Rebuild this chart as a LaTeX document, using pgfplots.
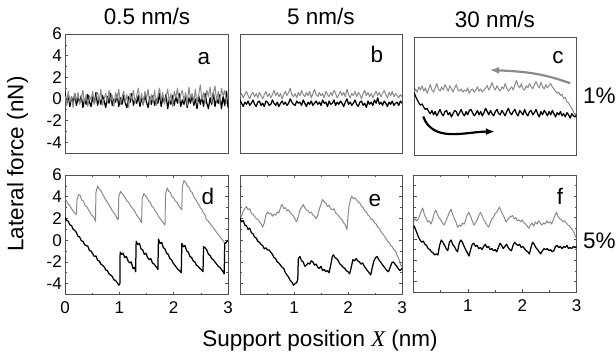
\documentclass[border=0pt]{standalone}
\usepackage{fontspec}
\setmainfont{Liberation Sans}
\newfontfamily\timesfont{Liberation Serif}
\usepackage{pgfplots}
\pgfplotsset{compat=1.18}
\usetikzlibrary{arrows.meta}
\definecolor{tgray}{HTML}{8A8A8A}
\definecolor{fgray}{HTML}{505050}
\newcommand\bigtxt{\fontsize{22.5bp}{26bp}\selectfont}
\pgfplotsset{
  panel/.style={
    scale only axis, xmin=0, xmax=3, ymin=-5, ymax=6,
    axis line style={fgray, line width=0.8bp},
    tick style={fgray, line width=0.6bp},
    major tick length=3bp, minor tick length=2bp,
    tick align=inside,
    tick label style={font=\fontsize{17bp}{17bp}\selectfont},
    yticklabel style={inner sep=0pt, xshift=-3bp},
    xticklabel style={inner sep=0pt, yshift=-7bp},
  },
  botrow/.style={panel, xtick={0,1,2,3}, minor xtick={0.5,1.5,2.5},
    ytick={-4,-2,0,2,4,6}, minor ytick={-5,-3,-1,1,3,5}, tick pos=both},
  blk/.style={black, line width=1.25bp, line join=round},
  gry/.style={tgray, line width=1.0bp, line join=round},
}
\begin{document}
\begin{tikzpicture}
\path[use as bounding box] (0,0) rectangle (616bp,358bp);

% ---------- panel a ----------
\begin{axis}[panel, at={(65bp,205bp)}, anchor=south west, width=163bp, height=119bp,
  xtick=\empty, ytick={-4,-2,0,2,4,6}, yticklabels={-4,-2,0,2,4,6},
  minor ytick={-5,-3,-1,1,3,5}, ytick pos=left]
\addplot[blk] coordinates {(0,0.6)(0.03,-0.5)(0.06,0.4)(0.09,-0.7)(0.12,0.2)(0.15,-0.4)(0.18,0.5)(0.21,-0.6)(0.24,0.1)(0.27,-0.3)
(0.30,0.3)(0.33,-0.8)(0.36,0.0)(0.39,-0.5)(0.42,0.4)(0.45,-0.3)(0.48,-0.7)(0.51,0.2)(0.54,-0.4)(0.57,0.6)
(0.60,-0.6)(0.63,0.1)(0.66,-0.5)(0.69,0.3)(0.72,-0.2)(0.75,-0.8)(0.78,0.2)(0.81,-0.4)(0.84,0.5)(0.87,-0.6)
(0.90,0.0)(0.93,-0.3)(0.96,0.4)(0.99,-0.7)(1.02,0.1)(1.05,-0.5)(1.08,0.3)(1.11,-0.4)(1.14,-0.8)(1.17,0.2)
(1.20,-0.3)(1.23,0.5)(1.26,-0.6)(1.29,0.0)(1.32,-0.4)(1.35,0.3)(1.38,-0.7)(1.41,0.1)(1.44,-0.5)(1.47,0.4)
(1.50,-0.3)(1.53,-0.8)(1.56,0.2)(1.59,-0.5)(1.62,0.3)(1.65,-0.6)(1.68,0.0)(1.71,-0.4)(1.74,0.5)(1.77,-0.7)
(1.80,0.1)(1.83,-0.3)(1.86,0.4)(1.89,-0.9)(1.92,0.0)(1.95,-0.5)(1.98,0.3)(2.01,-0.6)(2.04,0.2)(2.07,-0.4)
(2.10,0.5)(2.13,-0.7)(2.16,-0.1)(2.19,-0.5)(2.22,0.3)(2.25,-0.8)(2.28,0.1)(2.31,-0.4)(2.34,0.4)(2.37,-0.6)
(2.40,0.0)(2.43,-0.9)(2.46,0.3)(2.49,-0.5)(2.52,0.2)(2.55,-0.7)(2.58,0.5)(2.61,-0.4)(2.64,-0.9)(2.67,0.1)
(2.70,-0.5)(2.73,0.6)(2.76,-0.7)(2.79,0.0)(2.82,-0.4)(2.85,0.4)(2.88,-0.9)(2.91,0.2)(2.94,-0.6)(2.97,0.7)(3.00,-0.8)};
\addplot[gry] coordinates {(0,0.3)(0.03,-0.6)(0.06,0.7)(0.09,-0.3)(0.12,0.2)(0.15,-0.8)(0.18,0.5)(0.21,-0.2)(0.24,0.6)(0.27,-0.5)
(0.30,0.1)(0.33,0.8)(0.36,-0.4)(0.39,0.4)(0.42,-0.7)(0.45,0.3)(0.48,-0.1)(0.51,0.7)(0.54,-0.5)(0.57,0.2)
(0.60,0.6)(0.63,-0.3)(0.66,0.9)(0.69,-0.6)(0.72,0.0)(0.75,0.5)(0.78,-0.4)(0.81,0.8)(0.84,-0.2)(0.87,0.3)
(0.90,-0.7)(0.93,0.6)(0.96,0.0)(0.99,0.9)(1.02,-0.5)(1.05,0.2)(1.08,0.7)(1.11,-0.3)(1.14,0.4)(1.17,-0.8)
(1.20,0.5)(1.23,-0.1)(1.26,0.8)(1.29,-0.4)(1.32,0.3)(1.35,1.0)(1.38,-0.3)(1.41,0.5)(1.44,-0.6)(1.47,0.7)
(1.50,0.0)(1.53,0.9)(1.56,-0.5)(1.59,0.4)(1.62,-0.2)(1.65,0.8)(1.68,-0.6)(1.71,0.3)(1.74,1.0)(1.77,-0.2)
(1.80,0.6)(1.83,-0.5)(1.86,0.2)(1.89,0.9)(1.92,-0.3)(1.95,0.5)(1.98,-0.7)(2.01,0.7)(2.04,0.1)(2.07,1.0)
(2.10,-0.4)(2.13,0.4)(2.16,0.8)(2.19,-0.2)(2.22,0.6)(2.25,-0.6)(2.28,1.1)(2.31,0.0)(2.34,0.5)(2.37,-0.3)
(2.40,0.9)(2.43,-0.5)(2.46,0.4)(2.49,1.3)(2.52,-0.1)(2.55,0.6)(2.58,-0.4)(2.61,0.8)(2.64,0.2)(2.67,1.1)
(2.70,-0.3)(2.73,0.5)(2.76,1.2)(2.79,-0.2)(2.82,0.7)(2.85,-0.5)(2.88,1.0)(2.91,0.3)(2.94,0.8)(2.97,-0.4)(3.00,0.6)};
\end{axis}

% ---------- panel b ----------
\begin{axis}[panel, at={(240bp,205bp)}, anchor=south west, width=162bp, height=119bp,
  xtick=\empty, ytick=\empty]
\addplot[gry] coordinates {(0,0.2)(0.03,0.5)(0.06,0.1)(0.09,0.4)(0.12,0.7)(0.15,0.3)(0.18,0.0)(0.21,0.4)(0.24,0.6)(0.27,0.2)
(0.30,0.5)(0.33,0.1)(0.36,0.6)(0.39,0.3)(0.42,0.0)(0.45,0.4)(0.48,0.7)(0.51,0.2)(0.54,0.5)(0.57,0.1)
(0.60,0.4)(0.63,0.8)(0.66,0.3)(0.69,0.6)(0.72,0.2)(0.75,0.5)(0.78,0.0)(0.81,0.4)(0.84,0.7)(0.87,0.3)
(0.90,0.6)(0.93,1.0)(0.96,0.4)(0.99,0.2)(1.02,0.5)(1.05,0.1)(1.08,0.6)(1.11,0.3)(1.14,0.8)(1.17,0.4)
(1.20,0.2)(1.23,0.6)(1.26,0.3)(1.29,0.7)(1.32,0.1)(1.35,0.5)(1.38,0.9)(1.41,0.4)(1.44,0.2)(1.47,0.6)
(1.50,0.3)(1.53,0.5)(1.56,0.1)(1.59,0.7)(1.62,0.4)(1.65,0.2)(1.68,0.6)(1.71,0.3)(1.74,0.8)(1.77,0.5)
(1.80,0.1)(1.83,0.4)(1.86,0.7)(1.89,0.3)(1.92,0.6)(1.95,0.2)(1.98,0.9)(2.01,0.4)(2.04,0.1)(2.07,0.5)
(2.10,0.3)(2.13,0.7)(2.16,0.2)(2.19,0.6)(2.22,0.4)(2.25,0.0)(2.28,0.5)(2.31,0.8)(2.34,0.3)(2.37,0.6)
(2.40,0.2)(2.43,0.5)(2.46,0.1)(2.49,0.4)(2.52,0.7)(2.55,0.3)(2.58,0.6)(2.61,0.2)(2.64,0.5)(2.67,0.8)
(2.70,0.4)(2.73,0.1)(2.76,0.6)(2.79,0.3)(2.82,0.7)(2.85,0.2)(2.88,0.5)(2.91,0.3)(2.94,0.1)(2.97,0.4)(3.00,0.2)};
\addplot[blk] coordinates {(0,-0.1)(0.03,-0.4)(0.06,-0.7)(0.09,-0.3)(0.12,-0.5)(0.15,-0.2)(0.18,-0.6)(0.21,-0.4)(0.24,-0.1)(0.27,-0.5)
(0.30,-0.7)(0.33,-0.3)(0.36,-0.2)(0.39,-0.6)(0.42,-0.4)(0.45,-0.7)(0.48,-0.2)(0.51,-0.3)(0.54,-0.6)(0.57,-0.5)
(0.60,-0.1)(0.63,-0.4)(0.66,-0.6)(0.69,-0.3)(0.72,-0.7)(0.75,-0.4)(0.78,-0.2)(0.81,-0.5)(0.84,-0.3)(0.87,-0.6)
(0.90,-0.4)(0.93,0.0)(0.96,-0.3)(0.99,-0.5)(1.02,-0.6)(1.05,-0.2)(1.08,-0.4)(1.11,-0.3)(1.14,-0.6)(1.17,-0.1)
(1.20,-0.4)(1.23,-0.7)(1.26,-0.3)(1.29,-0.5)(1.32,-0.2)(1.35,-0.6)(1.38,-0.4)(1.41,-0.2)(1.44,-0.5)(1.47,-0.3)
(1.50,-0.6)(1.53,-0.1)(1.56,-0.4)(1.59,-0.3)(1.62,-0.7)(1.65,-0.2)(1.68,-0.5)(1.71,-0.4)(1.74,-0.1)(1.77,-0.6)
(1.80,-0.3)(1.83,-0.5)(1.86,-0.2)(1.89,-0.4)(1.92,-0.7)(1.95,-0.3)(1.98,0.0)(2.01,-0.5)(2.04,-0.3)(2.07,-0.6)
(2.10,-0.4)(2.13,-0.1)(2.16,-0.5)(2.19,-0.7)(2.22,-0.3)(2.25,-0.2)(2.28,-0.6)(2.31,-0.4)(2.34,-0.8)(2.37,-0.2)
(2.40,-0.5)(2.43,-0.3)(2.46,-0.6)(2.49,-0.1)(2.52,-0.4)(2.55,0.1)(2.58,-0.5)(2.61,-0.3)(2.64,-0.6)(2.67,-0.2)
(2.70,-0.4)(2.73,-0.7)(2.76,-0.3)(2.79,-0.5)(2.82,-0.2)(2.85,-0.6)(2.88,-0.4)(2.91,-0.3)(2.94,-0.6)(2.97,-0.2)(3.00,-0.4)};
\end{axis}

% ---------- panel c ----------
\begin{axis}[panel, at={(414bp,202.3bp)}, anchor=south west, width=162.7bp, height=118.4bp,
  xtick=\empty, ytick=\empty]
\addplot[gry] coordinates {(0,0.8)(0.03,1.2)(0.06,0.9)(0.09,1.4)(0.12,1.1)(0.15,1.5)(0.18,1.0)(0.21,1.3)(0.24,0.8)(0.27,1.2)
(0.30,1.6)(0.33,1.1)(0.36,0.9)(0.39,1.3)(0.42,1.7)(0.45,1.2)(0.48,1.0)(0.51,1.4)(0.54,1.1)(0.57,1.6)
(0.60,1.3)(0.63,1.0)(0.66,1.5)(0.69,1.2)(0.72,0.9)(0.75,1.3)(0.78,1.6)(0.81,1.1)(0.84,1.0)(0.87,1.2)
(0.90,0.9)(0.93,1.1)(0.96,1.0)(0.99,1.3)(1.02,0.8)(1.05,1.1)(1.08,1.2)(1.11,0.9)(1.14,1.1)(1.17,1.4)
(1.20,1.0)(1.23,1.2)(1.26,0.9)(1.29,1.1)(1.32,1.3)(1.35,1.5)(1.38,1.1)(1.41,1.4)(1.44,1.8)(1.47,1.3)
(1.50,1.1)(1.53,1.5)(1.56,1.2)(1.59,1.0)(1.62,1.4)(1.65,1.2)(1.68,1.7)(1.71,1.3)(1.74,1.0)(1.77,1.2)
(1.80,1.4)(1.83,1.1)(1.86,1.6)(1.89,2.0)(1.92,1.5)(1.95,1.3)(1.98,1.7)(2.01,1.2)(2.04,1.1)(2.07,1.5)
(2.10,1.3)(2.13,1.7)(2.16,1.4)(2.19,1.2)(2.22,1.6)(2.25,1.9)(2.28,1.5)(2.31,1.3)(2.34,1.8)(2.37,1.4)
(2.40,1.2)(2.43,1.6)(2.46,1.3)(2.49,1.5)(2.52,1.7)(2.55,1.4)(2.58,1.2)(2.61,1.0)(2.64,0.8)(2.67,0.9)
(2.70,0.6)(2.73,0.7)(2.76,0.3)(2.79,0.4)(2.82,0.0)(2.85,-0.1)(2.88,-0.4)(2.91,-0.6)(2.94,-0.9)(2.97,-1.2)(3.00,-1.0)};
\addplot[blk] coordinates {(0,0.9)(0.03,0.5)(0.06,0.2)(0.09,-0.1)(0.12,-0.3)(0.15,-0.2)(0.18,-0.5)(0.21,-0.7)(0.24,-0.6)(0.27,-0.9)
(0.30,-1.1)(0.33,-0.8)(0.36,-1.2)(0.39,-0.9)(0.42,-1.3)(0.45,-1.0)(0.48,-0.7)(0.51,-1.1)(0.54,-1.3)(0.57,-0.9)
(0.60,-0.8)(0.63,-1.2)(0.66,-1.0)(0.69,-1.4)(0.72,-1.1)(0.75,-0.8)(0.78,-0.9)(0.81,-1.3)(0.84,-1.0)(0.87,-0.7)
(0.90,-1.1)(0.93,-1.3)(0.96,-0.9)(0.99,-1.2)(1.02,-0.8)(1.05,-0.7)(1.08,-1.0)(1.11,-1.3)(1.14,-1.1)(1.17,-0.8)
(1.20,-1.2)(1.23,-0.9)(1.26,-1.3)(1.29,-1.0)(1.32,-0.6)(1.35,-0.9)(1.38,-1.2)(1.41,-0.8)(1.44,-1.1)(1.47,-1.3)
(1.50,-0.9)(1.53,-0.7)(1.56,-1.1)(1.59,-1.2)(1.62,-0.8)(1.65,-1.0)(1.68,-1.3)(1.71,-0.9)(1.74,-0.6)(1.77,-1.0)
(1.80,-1.2)(1.83,-0.9)(1.86,-0.7)(1.89,-1.1)(1.92,-1.3)(1.95,-0.8)(1.98,-1.0)(2.01,-1.2)(2.04,-0.7)(2.07,-1.1)
(2.10,-1.3)(2.13,-0.9)(2.16,-0.8)(2.19,-1.2)(2.22,-1.0)(2.25,-0.7)(2.28,-1.1)(2.31,-1.4)(2.34,-0.9)(2.37,-1.2)
(2.40,-0.8)(2.43,-1.0)(2.46,-1.3)(2.49,-0.9)(2.52,-1.2)(2.55,-0.8)(2.58,-1.1)(2.61,-1.4)(2.64,-1.0)(2.67,-1.2)
(2.70,-0.9)(2.73,-1.3)(2.76,-1.1)(2.79,-1.4)(2.82,-1.0)(2.85,-1.2)(2.88,-1.5)(2.91,-1.1)(2.94,-1.3)(2.97,-1.4)(3.00,-1.2)};
\draw[tgray, line width=2.2bp, -{Latex[length=9bp,width=7bp]}] (axis cs:2.88,1.73) to[out=160,in=-3] (axis cs:1.40,2.97);
\draw[black, line width=2.2bp, -{Latex[length=9bp,width=7bp]}] (axis cs:0.17,-1.36) to[out=-70,in=180] (axis cs:1.49,-2.76);
\end{axis}

% ---------- panel d ----------
\begin{axis}[botrow, at={(65bp,63.5bp)}, anchor=south west, width=163bp, height=119.5bp,
  xticklabels={0,1,2,3}, yticklabels={-4,-2,0,2,4,6}]
\addplot[gry] coordinates {(0,3.8)(0.03,3.6)(0.06,3.3)(0.09,3.2)(0.12,2.9)(0.15,2.7)(0.18,2.5)(0.21,2.35)
(0.22,3.7)(0.25,4.2)(0.28,4.1)(0.31,3.7)(0.34,3.6)(0.37,3.2)(0.40,3.1)(0.43,2.8)(0.46,2.6)(0.49,2.3)(0.52,2.2)(0.55,1.9)(0.56,1.7)
(0.57,4.4)(0.60,5.0)(0.63,4.7)(0.66,4.6)(0.69,4.2)(0.72,4.0)(0.75,3.7)(0.78,3.5)(0.81,3.2)(0.84,3.0)(0.87,2.7)(0.90,2.5)(0.93,2.3)(0.96,2.0)(0.98,1.9)
(0.99,4.0)(1.02,4.5)(1.05,4.3)(1.08,4.1)(1.11,3.9)(1.14,3.6)(1.17,3.5)(1.20,3.2)(1.23,3.0)(1.26,2.8)(1.29,2.6)(1.32,2.3)(1.35,2.1)(1.38,1.9)(1.41,1.6)
(1.42,3.8)(1.45,4.3)(1.48,4.1)(1.51,3.9)(1.54,3.6)(1.57,3.5)(1.60,3.1)(1.63,3.0)(1.66,2.7)(1.69,2.5)(1.72,2.2)(1.75,2.0)(1.78,1.8)(1.81,1.6)(1.84,1.4)
(1.85,4.2)(1.88,4.8)(1.91,4.5)(1.94,4.4)(1.97,4.0)(2.00,3.9)(2.03,3.6)(2.06,3.5)(2.09,3.2)(2.12,3.0)(2.15,2.8)
(2.16,4.9)(2.19,5.5)(2.22,5.3)(2.25,5.0)(2.28,4.9)(2.31,4.5)(2.34,4.4)(2.37,4.0)(2.40,3.8)(2.43,3.5)(2.46,3.3)(2.49,3.0)(2.52,2.8)(2.55,2.5)(2.58,2.3)
(2.60,1.9)(2.63,1.8)(2.66,1.6)(2.69,1.4)(2.72,1.2)(2.75,1.0)(2.78,0.8)(2.81,0.6)(2.84,0.4)(2.87,0.2)(2.90,0.0)(2.93,-0.2)(2.96,-0.3)(2.98,-0.1)(3.00,0.0)};
\addplot[blk] coordinates {(0,2.1)(0.03,1.8)(0.06,1.75)(0.09,1.4)(0.12,1.35)(0.15,1.0)(0.18,0.9)(0.21,0.7)(0.24,0.35)(0.27,0.3)(0.30,-0.05)(0.33,-0.1)(0.36,-0.4)(0.39,-0.5)(0.42,-0.55)(0.45,-0.95)(0.48,-1.0)(0.51,-1.25)(0.54,-1.5)(0.57,-1.45)(0.60,-1.85)(0.63,-1.9)(0.66,-2.2)(0.69,-2.3)(0.72,-2.45)(0.75,-2.75)(0.78,-2.8)(0.81,-3.1)(0.84,-3.2)(0.87,-3.35)(0.90,-3.65)(0.93,-3.7)(0.96,-3.9)(0.99,-4.15)(1.01,-4.0)
(1.015,-1.1)(1.04,-1.3)(1.07,-1.2)(1.10,-1.6)(1.13,-1.5)(1.16,-1.9)(1.19,-2.1)(1.22,-2.0)(1.25,-2.6)(1.28,-2.5)(1.30,-2.9)
(1.31,-0.1)(1.34,-0.4)(1.37,-0.3)(1.40,-0.8)(1.43,-0.9)(1.46,-1.3)(1.49,-1.2)(1.52,-1.6)(1.55,-1.8)(1.58,-1.7)(1.61,-2.1)(1.64,-2.2)(1.67,-2.4)(1.70,-2.6)(1.71,-2.7)
(1.72,0.1)(1.75,-0.3)(1.78,-0.2)(1.81,-0.7)(1.84,-0.8)(1.87,-1.2)(1.90,-1.3)(1.93,-1.7)(1.96,-1.8)(1.99,-2.1)(2.02,-2.3)(2.05,-2.5)(2.08,-2.7)(2.11,-2.8)(2.14,-3.0)
(2.15,-0.3)(2.18,-0.6)(2.21,-0.5)(2.24,-1.0)(2.27,-1.1)(2.30,-1.5)(2.33,-1.6)(2.36,-1.9)(2.39,-2.0)(2.42,-2.3)(2.45,-2.4)(2.48,-2.6)(2.51,-2.7)(2.54,-2.9)
(2.55,-0.6)(2.58,-0.7)(2.61,-0.9)(2.64,-1.3)(2.67,-1.4)(2.70,-1.7)(2.73,-1.8)(2.76,-2.0)(2.79,-2.2)(2.82,-2.4)(2.85,-2.5)(2.88,-2.7)(2.91,-2.9)(2.93,-3.1)
(2.94,-0.3)(2.97,-0.2)(3.00,0.0)};
\end{axis}

% ---------- panel e ----------
\begin{axis}[botrow, at={(240bp,63.5bp)}, anchor=south west, width=162bp, height=119.5bp,
  xticklabels={,1,2,3}, yticklabels={}]
\addplot[gry] coordinates {(0,2.4)(0.03,2.2)(0.06,2.7)(0.09,2.9)(0.12,3.1)(0.15,2.8)(0.18,2.9)(0.21,2.5)(0.24,2.4)(0.27,2.2)(0.30,2.0)(0.33,1.9)(0.36,1.7)(0.39,1.5)(0.42,1.2)(0.45,1.6)(0.48,2.3)(0.51,2.6)(0.54,2.4)(0.57,2.5)(0.60,2.2)(0.63,2.4)(0.66,2.3)(0.69,2.6)(0.72,2.5)(0.75,3.0)(0.78,3.3)(0.81,2.9)(0.84,3.0)(0.87,2.7)(0.90,2.8)(0.93,2.5)(0.96,2.4)(0.99,2.2)(1.02,1.9)(1.05,1.7)(1.08,2.2)(1.11,2.8)(1.14,3.0)(1.17,3.3)(1.20,3.0)(1.23,2.8)(1.26,2.7)(1.29,2.5)(1.32,2.6)(1.35,2.3)(1.38,2.2)(1.41,2.0)(1.44,2.3)(1.47,2.9)(1.50,3.3)(1.53,3.75)(1.56,3.5)(1.59,3.4)(1.62,3.1)(1.65,3.2)(1.68,2.9)(1.71,2.8)(1.74,2.9)(1.77,2.5)(1.80,2.4)(1.83,2.2)(1.86,2.0)(1.89,1.9)(1.92,1.6)(1.95,1.4)(1.98,0.95)(2.00,2.2)(2.02,3.2)(2.05,3.8)(2.07,4.05)(2.10,3.8)(2.13,3.9)(2.16,3.7)(2.19,3.5)(2.22,3.4)(2.25,3.1)(2.28,3.0)(2.31,2.7)(2.34,2.6)(2.37,2.3)(2.40,2.2)(2.43,1.9)(2.46,1.9)(2.49,1.6)(2.52,1.5)(2.55,1.2)(2.58,1.1)(2.61,0.8)(2.64,0.6)(2.67,0.4)(2.70,0.2)(2.73,-0.1)(2.76,-0.2)(2.79,-0.5)(2.82,-0.6)(2.85,-0.9)(2.88,-1.0)(2.91,-1.4)(2.94,-1.7)(2.97,-2.2)(3.00,-2.5)};
\addplot[blk] coordinates {(0,2.0)(0.03,1.7)(0.06,1.8)(0.09,1.4)(0.12,1.3)(0.15,1.0)(0.18,1.1)(0.21,0.7)(0.24,0.6)(0.27,0.3)(0.30,0.2)(0.33,-0.1)(0.36,-0.2)(0.39,-0.4)(0.42,-0.5)(0.45,-0.8)(0.48,-0.7)(0.51,-0.9)(0.54,-0.9)(0.57,-1.1)(0.60,-1.3)(0.63,-1.6)(0.66,-1.7)(0.69,-2.0)(0.72,-2.1)(0.75,-2.3)(0.78,-2.5)(0.81,-2.6)(0.84,-3.0)(0.87,-3.2)(0.90,-3.4)(0.93,-3.7)(0.96,-3.85)(0.99,-4.15)(1.02,-4.0)(1.05,-3.9)(1.07,-3.6)
(1.08,-1.7)(1.11,-1.5)(1.14,-1.9)(1.17,-2.0)(1.20,-2.4)(1.23,-2.3)(1.26,-2.1)(1.29,-2.2)(1.32,-1.9)(1.35,-2.0)(1.38,-2.3)(1.41,-2.2)(1.44,-2.5)(1.47,-2.6)(1.50,-2.4)(1.53,-2.8)(1.56,-2.7)(1.59,-2.9)(1.62,-2.8)(1.65,-3.0)(1.68,-2.3)(1.71,-1.5)(1.73,-1.35)(1.76,-1.6)(1.79,-1.7)(1.82,-1.9)(1.85,-2.2)(1.88,-2.3)(1.91,-2.5)(1.94,-2.6)(1.97,-2.8)(2.00,-2.9)(2.03,-3.1)(2.06,-2.5)(2.09,-1.8)(2.12,-1.9)(2.15,-1.7)(2.18,-1.9)(2.21,-2.0)(2.24,-2.2)(2.27,-2.1)(2.30,-2.4)(2.33,-2.6)(2.36,-2.8)(2.39,-3.0)(2.42,-3.2)(2.45,-2.5)(2.48,-1.9)(2.51,-1.6)(2.54,-1.5)(2.57,-1.8)(2.60,-2.0)(2.63,-2.2)(2.66,-2.4)(2.69,-2.6)(2.72,-2.8)(2.75,-2.9)(2.78,-2.5)(2.81,-2.1)(2.84,-2.0)(2.87,-2.2)(2.90,-2.4)(2.93,-2.6)(2.96,-2.8)(3.00,-2.6)};
\end{axis}

% ---------- panel f ----------
\begin{axis}[botrow, at={(413.5bp,65.7bp)}, anchor=south west, width=163.2bp, height=117.3bp,
  xticklabels={,1,2,3}, yticklabels={}]
\addplot[gry] coordinates {(0,1.6)(0.03,1.9)(0.06,1.7)(0.09,1.9)(0.12,2.3)(0.15,2.7)(0.17,2.9)(0.20,2.3)(0.23,2.0)(0.26,1.6)(0.29,1.7)(0.32,1.4)(0.35,1.8)(0.38,2.4)(0.41,2.7)(0.44,2.3)(0.47,2.0)(0.50,1.8)(0.53,1.5)(0.56,1.3)(0.59,1.6)(0.62,2.0)(0.66,2.5)(0.69,2.8)(0.72,2.3)(0.75,1.9)(0.78,1.6)(0.81,1.1)(0.84,1.3)(0.87,1.2)(0.90,1.5)(0.93,1.4)(0.96,1.8)(0.99,2.3)(1.02,2.5)(1.05,2.1)(1.08,1.7)(1.11,1.3)(1.14,1.5)(1.17,1.8)(1.20,2.2)(1.23,2.5)(1.26,2.2)(1.29,1.8)(1.32,1.6)(1.35,1.3)(1.38,1.1)(1.41,1.5)(1.44,1.9)(1.47,2.0)(1.50,2.4)(1.53,2.5)(1.56,2.8)(1.58,3.0)(1.61,2.6)(1.64,2.3)(1.67,2.0)(1.70,1.6)(1.73,1.8)(1.76,2.0)(1.79,2.1)(1.82,2.2)(1.85,1.9)(1.88,2.0)(1.91,1.7)(1.94,1.8)(1.97,1.6)(2.00,1.8)(2.03,1.5)(2.06,1.4)(2.09,1.2)(2.12,1.0)(2.15,1.3)(2.18,1.5)(2.21,1.2)(2.24,1.6)(2.27,1.4)(2.30,1.7)(2.33,1.5)(2.36,1.3)(2.39,1.5)(2.42,1.4)(2.45,1.7)(2.48,1.5)(2.51,1.6)(2.54,1.4)(2.57,1.8)(2.60,2.2)(2.63,2.5)(2.66,2.1)(2.69,1.9)(2.72,1.8)(2.75,1.6)(2.78,1.7)(2.81,1.5)(2.84,1.3)(2.87,1.2)(2.90,1.0)(2.93,0.8)(2.96,0.5)(2.98,0.2)(3.00,0.1)};
\addplot[blk] coordinates {(0,1.3)(0.03,1.0)(0.06,0.6)(0.09,0.2)(0.12,-0.1)(0.15,-0.3)(0.18,-0.2)(0.21,-0.5)(0.24,-0.6)(0.27,-0.9)(0.30,-1.0)(0.33,-1.2)(0.36,-1.3)(0.39,-1.5)(0.42,-1.4)(0.45,-1.5)(0.48,-0.6)(0.51,-0.1)(0.54,-0.3)(0.57,-0.6)(0.60,-0.9)(0.63,-1.1)(0.66,-0.3)(0.69,-0.1)(0.72,-0.5)(0.75,-0.7)(0.78,-1.0)(0.81,-1.2)(0.84,-0.4)(0.87,-0.1)(0.90,-0.3)(0.93,-0.7)(0.96,-1.0)(0.99,-1.3)(1.02,-1.6)(1.05,-1.0)(1.08,-0.5)(1.11,-0.4)(1.14,-0.7)(1.17,-0.6)(1.20,-0.9)(1.23,-0.8)(1.26,-1.0)(1.29,-0.7)(1.32,-0.5)(1.35,-0.8)(1.38,-0.7)(1.41,-1.0)(1.44,-0.9)(1.47,-1.1)(1.50,-1.0)(1.53,-1.2)(1.56,-0.8)(1.59,-0.4)(1.62,-0.6)(1.65,-0.9)(1.68,-0.7)(1.71,-0.5)(1.74,-0.8)(1.77,-1.0)(1.80,-1.1)(1.83,-0.6)(1.86,-0.3)(1.89,-0.5)(1.92,-0.6)(1.95,-0.5)(1.98,-0.8)(2.01,-0.7)(2.04,-0.9)(2.07,-1.1)(2.10,-1.2)(2.13,-1.4)(2.16,-0.8)(2.19,-0.3)(2.22,-0.5)(2.25,-0.8)(2.28,-1.0)(2.31,-1.2)(2.34,-1.4)(2.37,-1.1)(2.40,-0.9)(2.43,-1.0)(2.46,-0.9)(2.49,-1.1)(2.52,-1.0)(2.55,-1.2)(2.58,-1.1)(2.61,-0.7)(2.64,-0.6)(2.67,-0.8)(2.70,-0.7)(2.73,-0.9)(2.76,-0.7)(2.79,-0.8)(2.82,-0.6)(2.85,-0.9)(2.88,-0.8)(2.91,-0.9)(2.94,-0.7)(2.97,-0.8)(3.00,-0.7)};
\end{axis}

% ---------- texts ----------
\node[anchor=base, font=\bigtxt] at (147bp,333bp) {0.5 nm/s};
\node[anchor=base, font=\bigtxt] at (321bp,333bp) {5 nm/s};
\node[anchor=base, font=\bigtxt] at (495bp,330bp) {30 nm/s};
\node[anchor=base, font=\bigtxt, inner sep=0pt] at (204bp,293bp) {a};
\node[anchor=base, font=\bigtxt, inner sep=0pt] at (377bp,295bp) {b};
\node[anchor=base, font=\bigtxt, inner sep=0pt] at (558bp,294.7bp) {c};
\node[anchor=base, font=\bigtxt, inner sep=0pt] at (208bp,153bp) {d};
\node[anchor=base, font=\bigtxt, inner sep=0pt] at (375bp,151.3bp) {e};
\node[anchor=base, font=\bigtxt, inner sep=0pt] at (560bp,153bp) {f};
\node[anchor=base west, font=\bigtxt, inner sep=0pt] at (583bp,254.7bp) {1\%};
\node[anchor=base west, font=\bigtxt, inner sep=0pt] at (583bp,109.7bp) {5\%};
\node[rotate=90, font=\bigtxt, inner sep=0pt] at (17.5bp,194bp) {Lateral force (nN)};
\node[anchor=base, font=\bigtxt, inner sep=0pt] at (320bp,12bp) {Support position {\timesfont\itshape X} (nm)};
\end{tikzpicture}
\end{document}
